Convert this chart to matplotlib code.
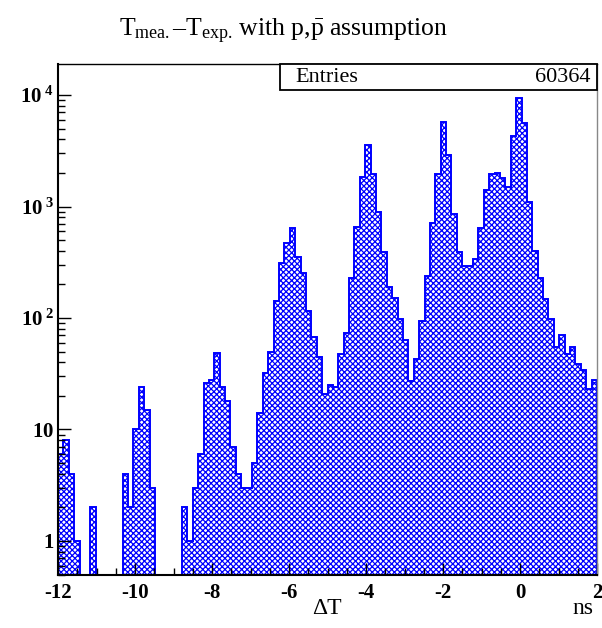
import numpy as np
import matplotlib
matplotlib.use('Agg')
import matplotlib.pyplot as plt
from matplotlib.ticker import LogLocator, FixedLocator, MultipleLocator, FixedFormatter, NullFormatter
from matplotlib.patches import Rectangle

# ---- data ----
x_min, x_max, n_bins = -12.0, 2.0, 100
counts = [6, 8, 4, 1, 0, 0, 2, 0, 0, 0, 0, 0, 4, 2, 10, 24, 15, 3, 0, 0, 0, 0, 0, 2,
          1, 3, 6, 26, 28, 49, 24, 18, 7, 4, 3, 3, 5, 14, 32, 50, 143, 310, 475, 640,
          350, 254, 116, 68, 45, 21,
          25, 24, 48, 73, 229, 653, 1830, 3590, 1965, 893, 389, 191, 151, 98, 64, 27,
          43, 94, 237, 712, 1950, 5780, 2900, 850, 389,
          293, 293, 337, 640, 1397, 1950, 1980, 1790, 1500, 4300, 9500, 5660, 1090,
          403, 229, 149, 98, 55, 71, 48, 55, 39, 34, 23, 28]
x_ticks = [-12, -10, -8, -6, -4, -2, 0, 2]
x_tick_labels = ['-12', '-10', '-8', '-6', '-4', '-2', '0', '2']
y_ticks = [1, 10, 100, 1000, 10000]
y_tick_labels = [r'$\mathbf{1}\ \ \,$', r'$\mathbf{10}\ \ \,$',
                 r'$\mathbf{10^{\ 2}}$', r'$\mathbf{10^{\ 3}}$', r'$\mathbf{10^{\ 4}}$']
entries = 60364
title = (r'$\mathrm{T}_{\mathrm{mea.}}\,\!$–$\mathrm{T}_{\mathrm{exp.}}\!$'
         r' with p,$\bar{\mathrm{p}}$ assumption')

plt.rcParams['font.family'] = ['Liberation Serif', 'DejaVu Serif']
plt.rcParams['mathtext.fontset'] = 'custom'
plt.rcParams['mathtext.rm'] = 'Liberation Serif'
plt.rcParams['mathtext.bf'] = 'Liberation Serif:bold'
plt.rcParams['mathtext.it'] = 'Liberation Serif:italic'
plt.rcParams['hatch.linewidth'] = 0.9

W, H = 602, 628
fig = plt.figure(figsize=(W / 100, H / 100), dpi=100)
L, R, T, B = 58, 597, 64, 575
ax = fig.add_axes([L / W, 1 - B / H, (R - L) / W, (B - T) / H])
ax.set_yscale('log')

edges = np.linspace(x_min, x_max, n_bins + 1)
ax.stairs(counts, edges, baseline=0, fill=True, facecolor='white',
          edgecolor='#0000ff', hatch='xxxxxx', linewidth=1.4)

ax.set_xlim(x_min, x_max)
ax.set_ylim(0.495, 19000)

ax.xaxis.set_major_locator(FixedLocator(x_ticks))
ax.xaxis.set_major_formatter(FixedFormatter(x_tick_labels))
ax.xaxis.set_minor_locator(MultipleLocator(0.5))
ax.yaxis.set_major_locator(FixedLocator(y_ticks))
ax.yaxis.set_major_formatter(FixedFormatter(y_tick_labels))
ax.yaxis.set_minor_locator(LogLocator(base=10, subs=np.arange(2, 10)))
ax.yaxis.set_minor_formatter(NullFormatter())

ax.tick_params(which='both', direction='in', top=False, right=False)
ax.tick_params(which='major', length=9, width=1)
ax.tick_params(which='minor', length=5, width=1)
ax.tick_params(axis='x', which='major', pad=6)
ax.tick_params(axis='y', which='major', pad=3)
for lab in ax.get_xticklabels() + ax.get_yticklabels():
    lab.set_fontweight('bold')
    lab.set_fontsize(15)

for s in ['left', 'bottom']:
    ax.spines[s].set_linewidth(1.5)
ax.spines['top'].set_linewidth(1.0)
ax.spines['right'].set_color('#888888')
ax.spines['right'].set_linewidth(1.0)

# title and axis labels
fig.text(284 / W, 1 - 31 / H, title, ha='center', va='center', fontsize=18.5)
fig.text(327 / W, 1 - 608 / H, 'ΔT', ha='center', va='center', fontsize=17)
fig.text(583 / W, 1 - 608 / H, 'ns', ha='center', va='center', fontsize=17)

# stats box
bx0, by0, bx1, by1 = 280, 64, 597, 90
fig.patches.append(Rectangle((bx0 / W, 1 - by1 / H), (bx1 - bx0) / W, (by1 - by0) / H,
                             transform=fig.transFigure, facecolor='white',
                             edgecolor='black', linewidth=1.3, zorder=5))
fig.text(295 / W, 1 - 77 / H, 'Entries', ha='left', va='center', fontsize=16, zorder=6)
fig.text(590 / W, 1 - 77 / H, f'{entries}', ha='right', va='center', fontsize=16, zorder=6)

fig.savefig('out.png', dpi=100)
